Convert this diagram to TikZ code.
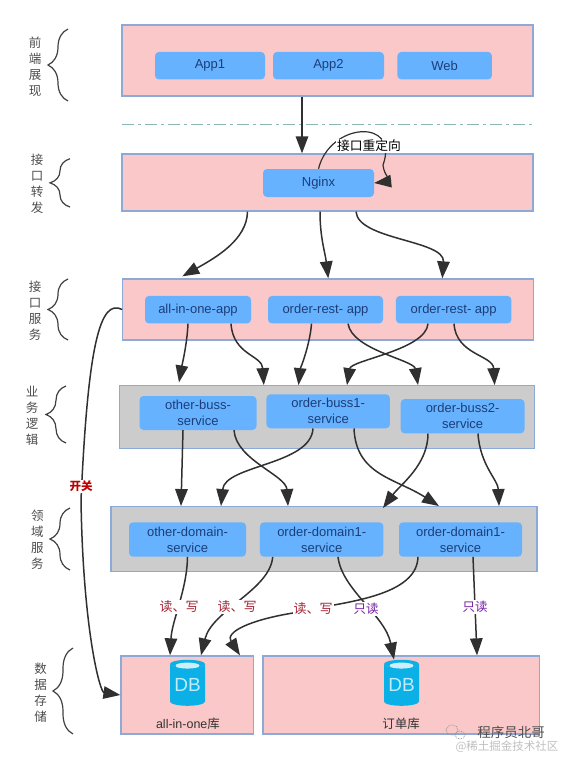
\documentclass[tikz,border=0pt]{standalone}
\usepackage{fontspec}
\setmainfont{Liberation Sans}
\newfontfamily\cjk{Noto Sans CJK SC}
\usepackage{xcolor}
\usetikzlibrary{arrows.meta,positioning,calc,shapes.geometric,decorations.pathreplacing}
\definecolor{PanelPink}{RGB}{250,200,200}
\definecolor{PanelGray}{RGB}{204,204,204}
\definecolor{PanelEdge}{RGB}{140,170,215}
\definecolor{BoxBlue}{RGB}{102,178,255}
\definecolor{BoxText}{RGB}{28,62,120}
\definecolor{DbBlue}{RGB}{10,176,230}
\definecolor{LineDark}{RGB}{48,48,48}
\definecolor{ReadRed}{RGB}{165,35,50}
\definecolor{ReadPurple}{RGB}{115,30,165}
\tikzset{
  pinkpanel/.style={draw=PanelEdge, line width=1.3pt, fill=PanelPink, inner sep=0pt},
  graypanel/.style={draw=PanelEdge, line width=1.3pt, fill=PanelGray, inner sep=0pt},
  svcbox/.style={fill=BoxBlue, rounded corners=4pt, text=BoxText, align=center, inner sep=0pt, font=\fontsize{13}{16}\selectfont},
  layertext/.style={text=black!70, align=center, font=\cjk\fontsize{12.5}{16}\selectfont},
  layerbrace/.style={draw=black!75, line width=1.2pt, decorate, decoration={brace, amplitude=20pt, aspect=0.5}},
  flow/.style={draw=LineDark, line width=1.5pt, -{Triangle[length=17pt, width=12.5pt]}},
  rwtext/.style={fill=white, inner sep=1pt, text=ReadRed, font=\cjk\fontsize{13}{15}\selectfont},
  rotext/.style={fill=white, inner sep=1pt, text=ReadPurple, font=\cjk\fontsize{12.5}{15}\selectfont},
  dbnode/.style={cylinder, shape border rotate=90, aspect=0.32, cylinder uses custom fill, cylinder body fill=DbBlue, cylinder end fill=DbBlue, inner sep=0pt, minimum width=35pt, minimum height=46pt, text=white!75!DbBlue, font=\fontsize{19}{19}\selectfont},
}
\begin{document}
\begin{tikzpicture}[x=1pt, y=-1pt, >=Latex]
  \useasboundingbox (0,0) rectangle (561,758);
  % layer panels
  \node[pinkpanel, minimum width=411pt, minimum height=71pt] (front) at (327.5,60.5) {};
  \node[pinkpanel, minimum width=411pt, minimum height=57pt] (gate) at (327.5,182.5) {};
  \node[pinkpanel, minimum width=411pt, minimum height=61pt] (rest) at (328.3,309.5) {};
  \node[graypanel, minimum width=415pt, minimum height=62.5pt] (buss) at (326.8,417) {};
  \node[graypanel, minimum width=426pt, minimum height=65pt] (domain) at (324,539.2) {};
  \node[pinkpanel, minimum width=132.5pt, minimum height=78pt] (dbone) at (187.3,695) {};
  \node[pinkpanel, minimum width=276.5pt, minimum height=78pt] (dborder) at (401.3,695) {};
  % service boxes
  \node[svcbox, minimum width=110pt, minimum height=27.5pt] (app1) at (210,65.7) {App1};
  \node[svcbox, minimum width=111pt, minimum height=27.5pt] (app2) at (328.5,65.7) {App2};
  \node[svcbox, minimum width=94.5pt, minimum height=27.5pt] (web) at (444.7,65.7) {Web};
  \node[svcbox, minimum width=111pt, minimum height=28pt] (nginx) at (318.5,183) {Nginx};
  \node[svcbox, minimum width=106pt, minimum height=27.5pt] (allapp) at (198,309.7) {all-in-one-app};
  \node[svcbox, minimum width=115pt, minimum height=27.5pt] (ordapp1) at (325.5,309.7) {order-rest- app};
  \node[svcbox, minimum width=115.5pt, minimum height=27.5pt] (ordapp2) at (453.7,309.7) {order-rest- app};
  \node[svcbox, minimum width=117pt, minimum height=34pt] (othbuss) at (198,413) {other-buss-\\service};
  \node[svcbox, minimum width=123.5pt, minimum height=34pt] (ordbuss1) at (328.2,411.3) {order-buss1-\\service};
  \node[svcbox, minimum width=123.8pt, minimum height=34.3pt] (ordbuss2) at (462.6,416.2) {order-buss2-\\service};
  \node[svcbox, minimum width=117pt, minimum height=34.4pt] (othdom) at (187.5,539.5) {other-domain-\\service};
  \node[svcbox, minimum width=123.5pt, minimum height=34.4pt] (orddom1) at (321.7,539.5) {order-domain1-\\service};
  \node[svcbox, minimum width=123pt, minimum height=34.4pt] (orddom2) at (460.5,539.5) {order-domain1-\\service};
  % databases
  \node[dbnode] (dbicon1) at (187.5,685) {DB};
  \node[dbnode] (dbicon2) at (401.5,685) {DB};
  \fill[white!80!DbBlue] ($(dbicon1.north)+(0,6)$) ellipse (12pt and 3pt);
  \fill[white!80!DbBlue] ($(dbicon2.north)+(0,6)$) ellipse (12pt and 3pt);
  \node[font=\fontsize{12.5}{14}\selectfont, text=black!80] (dbname1) at (188,724) {all-in-one{\cjk 库}};
  \node[font=\cjk\fontsize{12.5}{14}\selectfont, text=black!80] (dbname2) at (401,724) {订单库};
  % left column
  \node[layertext] (lab1) at (35,67) {前\\端\\展\\现};
  \node[layertext] (lab2) at (37,184) {接\\口\\转\\发};
  \node[layertext] (lab3) at (35,311) {接\\口\\服\\务};
  \node[layertext] (lab4) at (32,416) {业\\务\\逻\\辑};
  \node[layertext] (lab5) at (37.4,540) {领\\域\\服\\务};
  \node[layertext] (lab6) at (40.6,692.5) {数\\据\\存\\储};
  \draw[layerbrace] (68,101) -- (68,29);
  \draw[layerbrace] (70,207) -- (70,158.7);
  \draw[layerbrace] (68,340) -- (68,279);
  \draw[layerbrace] (66,443) -- (66,386);
  \draw[layerbrace] (70,570) -- (70,508);
  \draw[layerbrace] (73,734) -- (73,648);
  % divider
  \draw[draw=black!25!teal!45, line width=1.5pt, dash pattern=on 12pt off 4pt on 3pt off 4pt] (122,124.7) -- (533,124.7);
  % connectors
  \draw[flow] ([xshift=-25.5pt]front.south) -- ([xshift=-25.5pt]gate.north);
  \draw[draw=LineDark, line width=1.2pt, -{Triangle[length=17pt, width=12.5pt]}] (nginx.north) .. controls (330,122) and (400,118) .. (383,165) .. controls (384,176) and (392,181) .. (nginx.east);
  \node[fill=white, inner sep=1pt, font=\cjk\fontsize{12.8}{14}\selectfont] (redir) at (369,145.6) {接口重定向};
  \draw[flow] ([xshift=-80pt]gate.south) .. controls (247,240) and (215,258) .. ([xshift=-146pt,yshift=2pt]rest.north);
  \draw[flow] ([xshift=-7.5pt]gate.south) to[out=-90, in=97] (rest.north);
  \draw[flow] ([xshift=28.5pt]gate.south) .. controls (358,240) and (445,240) .. ([xshift=114pt]rest.north);
  \draw[flow] ([xshift=-10pt]allapp.south) .. controls (187,345) and (182,365) .. ([xshift=-147.8pt,yshift=2.7pt]buss.north);
  \draw[flow] ([xshift=33pt]allapp.south) .. controls (233,355) and (262,355) .. ([xshift=-63pt]buss.north);
  \draw[flow] ([xshift=-14pt]ordapp1.south) .. controls (310,345) and (300,370) .. ([xshift=-28.3pt]buss.north);
  \draw[flow] ([xshift=22.5pt]ordapp1.south) .. controls (352,350) and (414,360) .. ([xshift=91.2pt]buss.north);
  \draw[flow] ([xshift=-25.7pt]ordapp2.south) .. controls (426,350) and (351,360) .. ([xshift=20.2pt]buss.north);
  \draw[flow] ([xshift=0.3pt]ordapp2.south) .. controls (456,355) and (493,355) .. ([xshift=167.8pt]buss.north);
  \draw[flow] ([xshift=-15pt]othbuss.south) -- ([xshift=-143pt]domain.north);
  \draw[flow] ([xshift=36pt]othbuss.south) .. controls (236,460) and (286,475) .. ([xshift=-36pt]domain.north);
  \draw[flow] ([xshift=-15.2pt]ordbuss1.south) .. controls (311,465) and (225,465) .. ([xshift=-103pt]domain.north);
  \draw[flow] ([xshift=25.8pt]ordbuss1.south) .. controls (356,475) and (395,478) .. ([xshift=115pt]domain.north);
  \draw[flow] ([xshift=-34.6pt]ordbuss2.south) .. controls (428,465) and (400,485) .. ([xshift=59pt,yshift=-2pt]domain.north);
  \draw[flow] ([xshift=15.4pt]ordbuss2.south) .. controls (480,465) and (498,480) .. ([xshift=175pt]domain.north);
  \draw[flow] (othdom.south) .. controls (187,590) and (172,620) .. ([xshift=-17.3pt]dbone.north);
  \draw[flow] ([xshift=-49pt]orddom1.south) .. controls (270,590) and (212,610) .. ([xshift=13.7pt]dbone.north);
  \draw[flow] ([xshift=-42.5pt]orddom2.south) .. controls (417,600) and (330,603) .. (293,613) .. controls (250,620) and (225,632) .. ([xshift=52.7pt]dbone.north);
  \draw[flow] ([xshift=16.3pt]orddom1.south) .. controls (342,590) and (385,615) .. ([xshift=-7.5pt]dbicon2.north);
  \draw[flow] ([xshift=12.5pt]orddom2.south) -- ([xshift=75.7pt]dborder.north);
  \draw[flow] (rest.west) .. controls (100,298) and (88,345) .. (81,500) .. controls (83,630) and (100,692) .. (dbone.west);
  % read and write labels
  \node[rwtext] (rw1) at (179,607) {读、写};
  \node[rwtext] (rw2) at (237,607) {读、写};
  \node[rwtext] (rw3) at (313,609) {读、写};
  \node[rotext] (ro1) at (366,609) {只读};
  \node[rotext] (ro2) at (475,607) {只读};
  \node[fill=white, inner sep=1pt, text=red!75!black, font=\cjk\bfseries\fontsize{11.5}{14}\selectfont] (sw) at (81,486) {开关};
  % watermark
  \draw[black!45, densely dotted, line width=0.7pt] (452,730) ellipse (6pt and 5pt);
  \draw[black!45, densely dotted, line width=0.7pt] (460,735) ellipse (5pt and 4pt);
  \node[text=black!70, font=\cjk\fontsize{13.5}{15}\selectfont] (mark1) at (511,732) {程序员北哥};
  \node[text=black!25, font=\cjk\fontsize{11.5}{14}\selectfont, inner sep=0pt] (mark2) at (507,747) {@稀土掘金技术社区};
\end{tikzpicture}
\end{document}
